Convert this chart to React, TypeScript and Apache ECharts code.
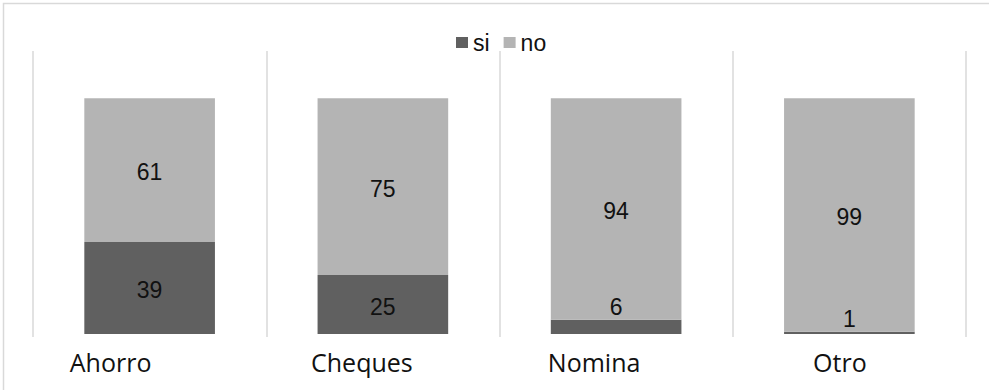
import React, { useEffect, useRef } from "react";
import * as echarts from "echarts";

const categories = ["Ahorro", "Cheques", "Nomina", "Otro"];
const siValues = [39, 25, 6, 1];
const noValues = [61, 75, 94, 99];

const SI_COLOR = "#606060";
const NO_COLOR = "#b4b4b4";
const LINE_COLOR = "#d9d9d9";

// Right padding per category label, pulling each name left of its column centre.
const labelPadRight = [78, 42, 44, 19];

// Small segments get their value written just above the segment.
const segmentData = (values: number[]) =>
  values.map((v) =>
    v < 10
      ? { value: v, label: { position: "top", distance: 1, offset: [0, 0] } }
      : { value: v }
  );

export default function App() {
  const ref = useRef<HTMLDivElement>(null);

  useEffect(() => {
    if (!ref.current) return;
    const chart = echarts.init(ref.current, null, { renderer: "svg" });
    const labelStyle = {
      show: true,
      position: "inside",
      offset: [0, 2],
      color: "#111",
      fontFamily: "Liberation Sans, Arial, sans-serif",
      fontSize: 23,
    };
    chart.setOption({
      animation: false,
      backgroundColor: "#ffffff",
      graphic: [
        {
          type: "rect",
          shape: { x: 3.5, y: 3.5, width: 1000, height: 1000 },
          style: { fill: "none", stroke: LINE_COLOR, lineWidth: 1.5 },
          silent: true,
        },
      ],
      legend: {
        left: 456,
        top: 31,
        padding: 0,
        itemWidth: 12,
        itemHeight: 11,
        itemGap: 14,
        icon: "rect",
        textStyle: {
          fontFamily: "Liberation Sans, Arial, sans-serif",
          fontSize: 23,
          color: "#111",
        },
        data: ["si", "no"],
      },
      grid: { left: 33, right: 23, top: 51, bottom: 56 },
      xAxis: {
        type: "category",
        data: categories.map((c, i) => ({
          value: c,
          textStyle: { padding: [0, labelPadRight[i], 0, 0] },
        })),
        boundaryGap: true,
        axisLine: { show: false },
        axisTick: { show: true, length: 3, lineStyle: { color: LINE_COLOR, width: 1.5 } },
        splitLine: { show: true, interval: 0, lineStyle: { color: LINE_COLOR, width: 1.5 } },
        axisLabel: {
          interval: 0,
          margin: 15,
          color: "#111",
          fontFamily: "Open Sans, sans-serif",
          fontSize: 25,
          align: "center",
        },
      },
      yAxis: {
        type: "value",
        min: 0,
        max: 120,
        show: false,
        splitLine: { show: false },
      },
      series: [
        {
          name: "si",
          type: "bar",
          stack: "total",
          barWidth: "56%",
          itemStyle: { color: SI_COLOR },
          label: labelStyle,
          data: segmentData(siValues),
        },
        {
          name: "no",
          type: "bar",
          stack: "total",
          barWidth: "56%",
          itemStyle: { color: NO_COLOR },
          label: labelStyle,
          data: noValues,
        },
      ],
    });
    return () => chart.dispose();
  }, []);

  return (
    <div
      ref={ref}
      style={{ position: "fixed", left: 0, top: 0, width: 989, height: 390 }}
    />
  );
}
